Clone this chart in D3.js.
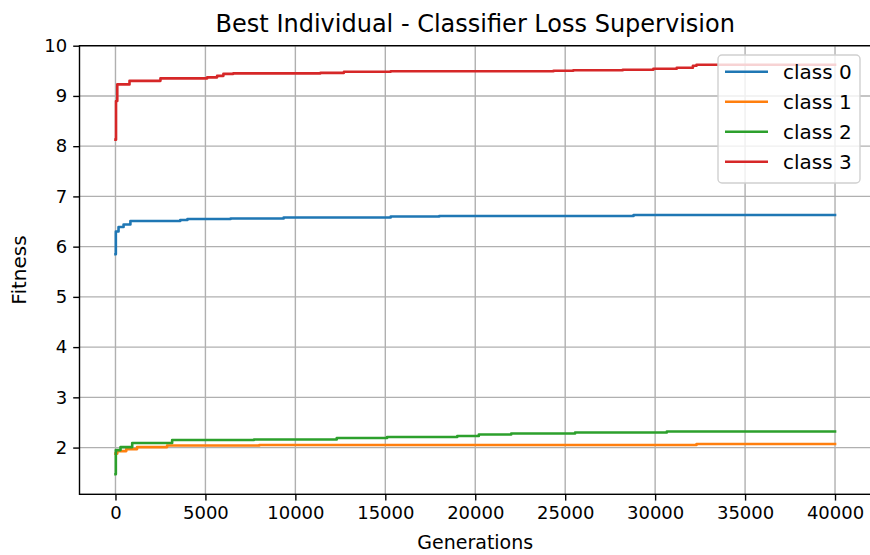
<!DOCTYPE html>
<html>
<head>
<meta charset="utf-8">
<script src="https://cdn.jsdelivr.net/npm/d3@7"></script>
<style>
  body { margin: 0; background: #fff; }
  text { font-family: "DejaVu Sans", sans-serif; fill: #000; }
</style>
</head>
<body>
<div class="chart"></div>
<script>
// generations where the best individual improved, and its fitness
const class0Gen = [0, 20, 170, 450, 830, 3600, 4000, 6400, 9350, 15300, 18000, 28800, 40000];
const class0Fit = [5.85, 6.30, 6.39, 6.44, 6.51, 6.53, 6.55, 6.56, 6.58, 6.60, 6.61, 6.63, 6.63];

const class1Gen = [0, 100, 600, 1200, 2870, 8000, 32300, 40000];
const class1Fit = [1.88, 1.93, 1.97, 2.01, 2.04, 2.05, 2.07, 2.07];

const class2Gen = [0, 20, 280, 930, 3150, 7700, 12300, 15100, 19000, 20200, 22000, 25550, 30650, 40000];
const class2Fit = [1.47, 1.95, 2.01, 2.09, 2.15, 2.16, 2.19, 2.21, 2.23, 2.26, 2.28, 2.30, 2.32, 2.32];

const class3Gen = [0, 30, 100, 780, 2500, 5100, 5650, 6000, 6550, 11400, 12700, 15300, 24350, 25450, 28200, 29900, 31200, 32100, 32300, 40000];
const class3Fit = [8.13, 8.9, 9.23, 9.30, 9.35, 9.37, 9.40, 9.44, 9.45, 9.46, 9.48, 9.49, 9.50, 9.51, 9.52, 9.54, 9.56, 9.60, 9.62, 9.62];

const seriesNames = ["class 0", "class 1", "class 2", "class 3"];
const colors = ["#1f77b4", "#ff7f0e", "#2ca02c", "#d62728"];
const xTicks = [0, 5000, 10000, 15000, 20000, 25000, 30000, 35000, 40000];
const yTicks = [2, 3, 4, 5, 6, 7, 8, 9, 10];

function zip(g, f){
    return g.map((d, i) => ({gen: d, fit: f[i]}));
}
const series = [
    zip(class0Gen, class0Fit),
    zip(class1Gen, class1Fit),
    zip(class2Gen, class2Fit),
    zip(class3Gen, class3Fit)
];

const width = 870;
const height = 555;
const plotL = 79.5, plotR = 871, plotT = 45.7, plotB = 494.3;

const svg = d3.select('.chart')
    .append('svg')
    .attr('width', width)
    .attr('height', height);

svg.append('rect').attr('width', width).attr('height', height).attr('fill', '#fff');

const x = d3.scaleLinear().domain([-2000, 42000]).range([plotL, plotR]);
const y = d3.scaleLinear().domain([1.07, 10]).range([plotB, plotT]);

// grid
svg.append('g')
    .selectAll('line')
    .data(xTicks)
    .enter()
    .append('line')
    .attr('x1', d => x(d)).attr('x2', d => x(d))
    .attr('y1', plotT).attr('y2', plotB)
    .attr('stroke', '#b0b0b0').attr('stroke-width', 1.4);

svg.append('g')
    .selectAll('line')
    .data(yTicks)
    .enter()
    .append('line')
    .attr('x1', plotL).attr('x2', plotR)
    .attr('y1', d => y(d)).attr('y2', d => y(d))
    .attr('stroke', '#b0b0b0').attr('stroke-width', 1.4);

// lines
const line = d3.line()
    .x(d => x(d.gen))
    .y(d => y(d.fit))
    .curve(d3.curveStepAfter);

svg.append('g')
    .selectAll('path')
    .data(series)
    .enter()
    .append('path')
    .attr('d', line)
    .attr('fill', 'none')
    .attr('stroke', (d, i) => colors[i])
    .attr('stroke-width', 2.6)
    .attr('stroke-linejoin', 'round')
    .attr('stroke-linecap', 'square');

// spines
svg.append('rect')
    .attr('x', plotL).attr('y', plotT)
    .attr('width', plotR - plotL).attr('height', plotB - plotT)
    .attr('fill', 'none').attr('stroke', '#000').attr('stroke-width', 1.4);

// axes
const xAxis = svg.append('g')
    .attr('transform', `translate(0,${plotB})`)
    .call(d3.axisBottom(x).tickValues(xTicks).tickSize(6.3).tickPadding(6).tickFormat(d3.format('d')));
const yAxis = svg.append('g')
    .attr('transform', `translate(${plotL},0)`)
    .call(d3.axisLeft(y).tickValues(yTicks).tickSize(6.3).tickPadding(6).tickFormat(d3.format('d')));

[xAxis, yAxis].forEach(a => {
    a.select('.domain').remove();
    a.selectAll('line').attr('stroke', '#000').attr('stroke-width', 1.4);
    a.selectAll('text')
        .attr('font-family', '"DejaVu Sans", sans-serif')
        .attr('font-size', '18px')
        .attr('fill', '#000');
});

// labels
svg.append('text')
    .text('Best Individual - Classifier Loss Supervision')
    .attr('x', (plotL + plotR) / 2)
    .attr('y', 32)
    .attr('text-anchor', 'middle')
    .attr('font-size', '24px');

svg.append('text')
    .text('Generations')
    .attr('x', (plotL + plotR) / 2)
    .attr('y', 549)
    .attr('text-anchor', 'middle')
    .attr('font-size', '19px');

svg.append('text')
    .text('Fitness')
    .attr('transform', `translate(26,${(plotT + plotB) / 2}) rotate(-90)`)
    .attr('text-anchor', 'middle')
    .attr('font-size', '20px');

// legend
const legend = svg.append('g');
legend.append('rect')
    .attr('x', 718).attr('y', 55)
    .attr('width', 142).attr('height', 128)
    .attr('rx', 4)
    .attr('fill', 'rgba(255,255,255,0.8)')
    .attr('stroke', '#d0d0d0').attr('stroke-width', 1.4);

const items = legend.selectAll('.item')
    .data(seriesNames)
    .enter()
    .append('g')
    .attr('transform', (d, i) => `translate(0,${71.7 + i * 30})`);

items.append('line')
    .attr('x1', 725).attr('x2', 768)
    .attr('stroke', (d, i) => colors[i])
    .attr('stroke-width', 2.6);

items.append('text')
    .text(d => d)
    .attr('x', 783)
    .attr('dy', '0.35em')
    .attr('font-size', '20px');
</script>
</body>
</html>
